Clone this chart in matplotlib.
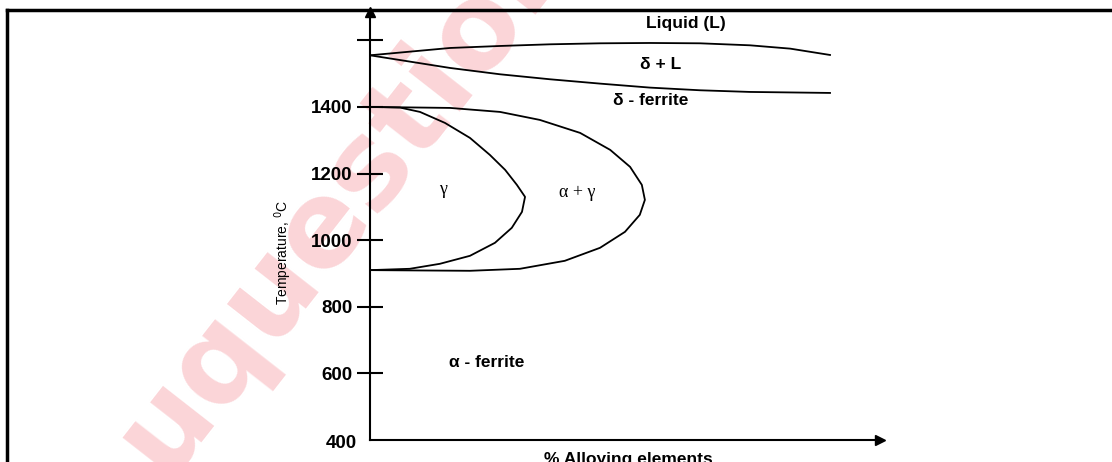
import matplotlib
matplotlib.use("Agg")
import matplotlib.pyplot as plt
from matplotlib.lines import Line2D

# phase boundaries (x = % alloying, arbitrary units; y = deg C)
liq_x = [0, 1.57, 2.55, 3.53, 4.51, 5.49, 6.47, 7.45, 8.24, 9.02]
liq_t = [1555, 1577, 1583, 1588, 1591, 1592, 1591, 1585, 1575, 1556]

sol_x = [0, 1.57, 2.55, 3.53, 4.51, 5.49, 6.47, 7.45, 9.02]
sol_t = [1555, 1517, 1498, 1483, 1470, 1458, 1450, 1445, 1442]

gam_x = [0, 0.59, 0.98, 1.47, 1.96, 2.35, 2.65, 2.88, 3.04, 2.98, 2.78, 2.45, 1.96, 1.37, 0.78, 0]
gam_t = [1400, 1398, 1385, 1352, 1307, 1256, 1211, 1166, 1130, 1085, 1037, 992, 953, 929, 914, 910]

ag_x = [0, 1.57, 2.55, 3.33, 4.12, 4.71, 5.10, 5.33, 5.39, 5.29, 5.00, 4.51, 3.82, 2.94, 1.96, 0]
ag_t = [1400, 1397, 1385, 1361, 1322, 1271, 1220, 1166, 1121, 1076, 1025, 977, 938, 914, 908, 910]

yticks = [600, 800, 1000, 1200, 1400, 1600]
ytick_labels = ["600", "800", "1000", "1200", "1400", ""]

fig = plt.figure(figsize=(11.12, 4.62), dpi=100)
ax = fig.add_axes([370/1112, 22/462, 510/1112, 428/462])

# watermark, behind everything
fig.text(0.331, 0.645, "uquestions", fontsize=86, fontweight="bold", color="#fbd5d8",
         rotation=52, rotation_mode="anchor", ha="center", va="center",
         family="DejaVu Sans", zorder=-10)

for xs, ts in [(liq_x, liq_t), (sol_x, sol_t), (gam_x, gam_t), (ag_x, ag_t)]:
    ax.plot(xs, ts, color="black", lw=1.3)

ax.set_xlim(0, 10)
ax.set_ylim(400, 1685)
ax.patch.set_alpha(0)
for s in ["top", "right"]:
    ax.spines[s].set_visible(False)
for s in ["left", "bottom"]:
    ax.spines[s].set_linewidth(1.5)
ax.plot([0], [1], marker="^", color="black", ms=7, transform=ax.transAxes, clip_on=False)
ax.plot([1], [0], marker=">", color="black", ms=7, transform=ax.transAxes, clip_on=False)

ax.set_xticks([])
ax.set_yticks(yticks)
ax.set_yticklabels(ytick_labels, fontsize=13.5, fontweight="bold", family="Liberation Sans")
ax.tick_params(axis="y", direction="inout", length=19, width=1.5, pad=3)
ax.text(-0.25, 388, "400", ha="right", va="center", fontsize=13.5,
        fontweight="bold", family="Liberation Sans")

sans = dict(fontsize=12.5, fontweight="bold", family="Liberation Sans", ha="center", va="center")
ax.text(6.20, 1650, "Liquid (L)", **sans)
ax.text(5.69, 1528, "δ + L", **sans)
ax.text(5.51, 1420, "δ - ferrite", **sans)
ax.text(2.29, 634, "α - ferrite", **sans)
serif = dict(fontsize=13, family="Liberation Serif", ha="center", va="center")
ax.text(1.43, 1151, "γ", **serif)
ax.text(4.06, 1142, "α + γ", **serif)

fig.text(283/1112, 1 - 252/462, "Temperature, $^0$C", rotation=90, ha="center", va="center",
         fontsize=10, family=["Liberation Sans Narrow", "Liberation Sans"])
fig.text(628/1112, 1 - 464/462, "% Alloying elements", ha="center", va="baseline",
         fontsize=12.5, fontweight="bold", family="Liberation Sans")

# frame of the scanned page
fig.add_artist(Line2D([7/1112, 7/1112], [0, 1 - 10/462], color="black", lw=2.5))
fig.add_artist(Line2D([7/1112, 1], [1 - 10/462, 1 - 10/462], color="black", lw=2.5))

fig.savefig("out.png", dpi=100)
